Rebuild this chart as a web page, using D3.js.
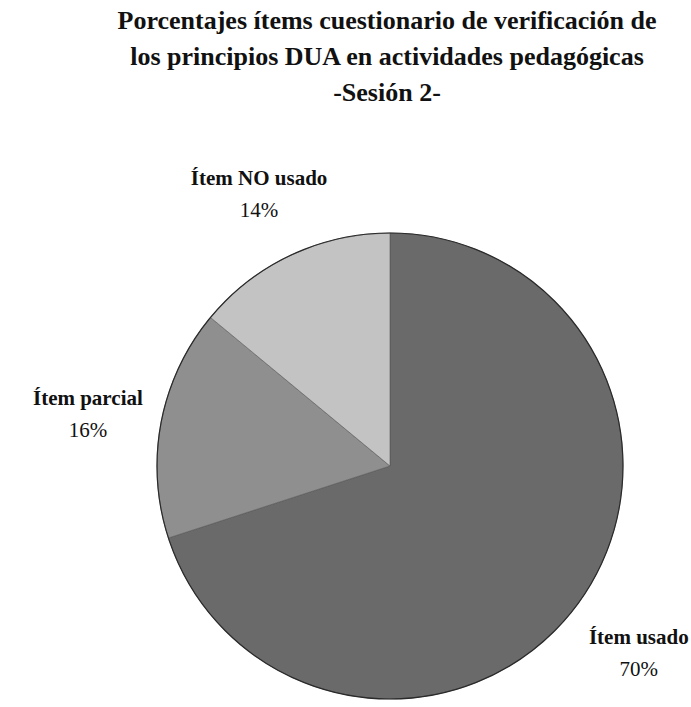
<!DOCTYPE html>
<html>
<head>
<meta charset="utf-8">
<script src="https://cdn.jsdelivr.net/npm/d3@7"></script>
<style>
  body { margin: 0; background: #fff; }
  svg text { font-family: "Liberation Serif", "Times New Roman", serif; fill: #111; }
</style>
</head>
<body>
<div id="chart"></div>
<script>
// data
const categories = ["Ítem usado", "Ítem parcial", "Ítem NO usado"]
const values = [70, 16, 14]
const colors = ["#6a6a6a", "#8f8f8f", "#c3c3c3"]
const titleLines = [
  "Porcentajes ítems cuestionario de verificación de",
  "los principios DUA en actividades pedagógicas",
  "-Sesión 2-"
]

const width = 691, height = 707
const cx = 390, cy = 466, radius = 233

const svg = d3.select("#chart")
  .append("svg")
    .attr("width", width)
    .attr("height", height)

// title
svg.append("g")
  .selectAll("text")
  .data(titleLines)
  .enter()
  .append("text")
    .attr("x", 387)
    .attr("y", (d, i) => 29 + i * 36)
    .attr("text-anchor", "middle")
    .attr("font-size", 26)
    .attr("font-weight", "bold")
    .text(d => d)

const data = categories.map((c, i) => ({ name: c, value: values[i], color: colors[i] }))

const pie = d3.pie().sort(null).value(d => d.value)
const arcs = pie(data)

const arc = d3.arc().innerRadius(0).outerRadius(radius)
const labelArc = d3.arc().innerRadius(radius * 1.32).outerRadius(radius * 1.32)

const g = svg.append("g")
    .attr("transform", "translate(" + cx + "," + cy + ")")

g.selectAll("path")
  .data(arcs)
  .enter()
  .append("path")
    .attr("d", arc)
    .attr("fill", d => d.data.color)
    .attr("stroke", "#555")
    .attr("stroke-width", 0.6)

// outer rim is a bit darker
g.append("circle")
    .attr("r", radius)
    .attr("fill", "none")
    .attr("stroke", "#2a2a2a")
    .attr("stroke-width", 1.2)

const labels = g.selectAll("g.lbl")
  .data(arcs)
  .enter()
  .append("g")
    .attr("class", "lbl")
    .attr("transform", d => "translate(" + labelArc.centroid(d) + ")")

labels.append("text")
    .attr("y", -3)
    .attr("text-anchor", "middle")
    .attr("font-size", 21)
    .attr("font-weight", "bold")
    .text(d => d.data.name)

labels.append("text")
    .attr("y", 29)
    .attr("text-anchor", "middle")
    .attr("font-size", 21)
    .text(d => d.data.value + "%")
</script>
</body>
</html>
